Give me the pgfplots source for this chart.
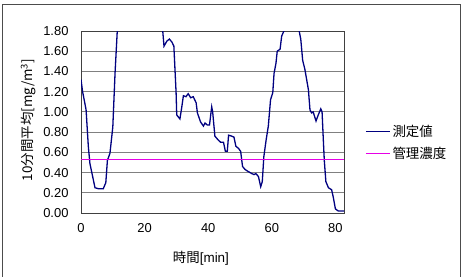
\documentclass[border=0pt]{standalone}
\usepackage{fontspec}
\setmainfont{Liberation Sans}
\newfontfamily\jp{Noto Sans CJK JP}
\usepackage{pgfplots}
\pgfplotsset{compat=1.18}
\definecolor{seriesnavy}{rgb}{0,0,0.5}
\definecolor{limitpink}{RGB}{230,0,230}
\begin{document}
\begin{tikzpicture}[x=1bp,y=1bp]
\useasboundingbox (0,0) rectangle (466,276);
\draw[black!70, line width=1bp] (2,-2) -- (2,271) -- (460,271) -- (460,-2);
\begin{axis}[at={(81bp,63bp)}, anchor=south west, scale only axis,
  width=263bp, height=182bp,
  xmin=0, xmax=82.7, ymin=0, ymax=1.8,
  xtick={0,20,40,60,80},
  ytick={0,0.2,0.4,0.6,0.8,1.0,1.2,1.4,1.6,1.8},
  yticklabel style={/pgf/number format/fixed, /pgf/number format/fixed zerofill, /pgf/number format/precision=2, xshift=-9bp},
  /pgf/number format/assume math mode=true,
  tick label style={font=\fontsize{13}{15}\selectfont},
  xticklabel style={yshift=-7bp},
  major tick length=0pt,
  ymajorgrids,
  grid style={black!50, line width=0.8bp},
  axis line style={black!75, line width=1bp},
  xlabel={{\jp 時間}[min]},
  ylabel={{\jp 10分間平均[mg/m\textsuperscript{3}]}},
  label style={font=\fontsize{13.5}{15}\selectfont},
  xlabel style={at={(axis description cs:0.456,-0.247)}, anchor=center},
  ylabel style={at={(axis description cs:-0.2,0.511)}, anchor=center},
  legend style={draw=none, fill=none, inner sep=0pt, at={(axis description cs:1.08,0.387)}, anchor=west,
    font=\fontsize{13.5}{15}\selectfont\jp, row sep=5bp, cells={anchor=west}},
  legend image code/.code={\draw[#1] (0bp,0bp) -- (24bp,0bp);},
]
\addplot[color=seriesnavy, line width=1.3bp, mark=none] coordinates {
(0,1.32) (0.5,1.20) (1.0,1.12) (1.6,1.02) (2.3,0.66) (2.8,0.49) (3.4,0.40)
(4.4,0.25) (5.5,0.24) (7.0,0.24) (7.8,0.30) (8.3,0.52) (9.1,0.59) (10.0,0.85)
(10.7,1.38) (11.4,1.80) (12.5,2.6) (18,3.5) (25,2.6) (25.7,1.80) (26.1,1.65)
(27.0,1.70) (27.8,1.72) (28.6,1.69) (29.2,1.65) (29.9,1.19) (30.1,0.97)
(31.1,0.93) (31.7,1.05) (32.2,1.16) (33.0,1.15) (33.7,1.18) (34.5,1.14)
(35.3,1.15) (36.2,1.09) (36.6,0.99) (37.6,0.90) (38.5,0.86) (39.0,0.89)
(39.7,0.87) (40.4,0.87) (41.1,1.05) (41.4,1.00) (42.1,0.76) (43.2,0.72)
(43.9,0.70) (44.8,0.70) (45.4,0.61) (46.0,0.61) (46.4,0.77) (47.4,0.76)
(48.1,0.75) (48.7,0.66) (49.5,0.64) (50.2,0.61) (50.8,0.46) (51.6,0.43)
(52.6,0.41) (53.7,0.39) (54.4,0.38) (55.0,0.39) (55.8,0.36) (56.5,0.26)
(57.0,0.31) (57.5,0.56) (58.2,0.72) (58.9,0.86) (59.6,1.12) (60.3,1.19)
(60.7,1.38) (61.3,1.48) (61.7,1.60) (62.6,1.62) (63.1,1.75) (63.8,1.80)
(64.5,2.2) (66,2.6) (68,2.2) (68.6,1.80) (69.1,1.72) (69.7,1.51) (70.4,1.42)
(71.5,1.22) (72.0,1.02) (72.5,0.99) (73.0,1.00) (73.9,0.91) (74.6,0.97)
(75.4,1.03) (75.8,1.00) (76.2,0.72) (76.5,0.52) (77.0,0.31) (77.8,0.25)
(78.8,0.23) (79.3,0.16) (80.0,0.04) (80.9,0.02) (82.7,0.02)
};
\addlegendentry{測定値}
\addplot[color=limitpink, line width=1.1bp, mark=none] coordinates {(0,0.53) (82.7,0.53)};
\addlegendentry{管理濃度}
\end{axis}
\end{tikzpicture}
\end{document}
